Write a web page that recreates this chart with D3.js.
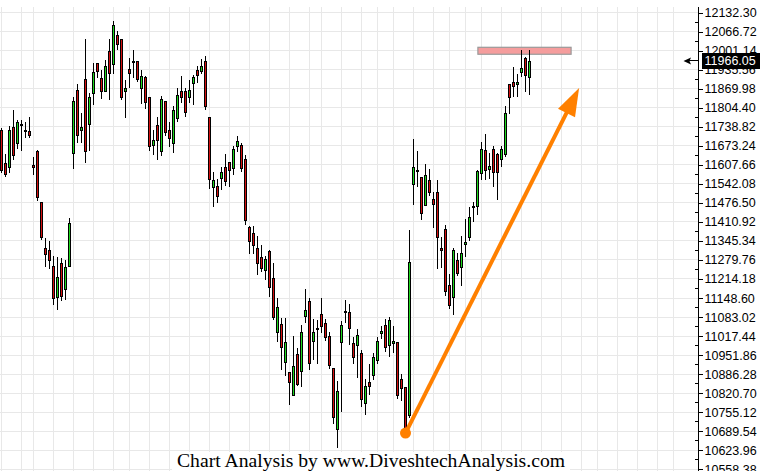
<!DOCTYPE html>
<html><head><meta charset="utf-8">
<script src="https://cdn.jsdelivr.net/npm/d3@7"></script>
<style>html,body{margin:0;padding:0;background:#fff;overflow:hidden}svg{display:block}</style>
</head><body>
<svg id="c" width="760" height="471"></svg>
<script>
// ---- data ----
const opens  = [11728,11614,11600,11738,11683,11747,11725,11725,11608,11654,11479,11321,11315,11260,11152,11269,11180,11260,11650,11866,
  11727,11903,11748,11855,11958,11906,11864,11999,11956,12056,12041,11864,11937,11963,11965,11874,11911,11843,11675,11745,
  11654,11827,11727,11683,11769,11863,11863,11841,11891,11934,11930,11965,11772,11531,11536,11562,11600,11616,11597,11672,
  11677,11627,11395,11374,11322,11291,11245,11310,11216,11033,11059,10929,10894,10814,10956,10897,11087,11140,11001,11043,
  11095,11064,11018,10906,10698,10998,11102,11101,10994,10987,10960,10788,10860,10883,10936,11029,11056,10986,10994,10998,
  10870,10843,10745,11543,11587,11566,11468,11555,11490,11514,11321,11387,11194,11152,11281,11256,11335,11359,11463,11467,
  11579,11658,11595,11662,11645,11627,11645,11886,11893,11886,11929,11975,11912];
const highs  = [11734,11646,11742,11797,11763,11761,11757,11774,11634,11660,11479,11356,11345,11295,11290,11287,11279,11424,11843,11887,
  11786,12041,11855,11960,11960,11935,11969,12041,12104,12070,12041,11901,11975,12004,11965,11935,11914,11843,11728,11772,
  11846,11827,11756,11809,11872,11914,11872,11901,11918,11949,11972,11983,11772,11583,11559,11599,11644,11619,11671,11708,
  11683,11642,11398,11398,11361,11333,11292,11313,11269,11147,11080,11080,10894,11019,10977,11057,11180,11147,11077,11074,
  11147,11077,11032,10908,10861,11071,11143,11129,11015,11042,10969,10870,10920,10960,11014,11051,11077,11084,11051,10998,
  10885,10843,11384,11697,11656,11566,11610,11594,11514,11555,11358,11400,11232,11321,11304,11364,11421,11461,11478,11591,
  11688,11714,11650,11671,11650,11673,11811,11886,11944,11920,12004,11981,12004];
const lows   = [11579,11566,11579,11625,11662,11654,11700,11700,11571,11482,11347,11255,11249,11123,11106,11137,11141,11258,11593,11683,
  11683,11614,11657,11813,11906,11835,11859,11830,11921,12004,11830,11769,11872,11906,11895,11817,11800,11657,11640,11623,
  11637,11706,11669,11650,11757,11820,11774,11820,11815,11889,11921,11797,11524,11462,11476,11520,11536,11531,11571,11652,
  11582,11400,11300,11302,11229,11237,11210,11152,11072,10998,10900,10879,10781,10810,10845,10843,11061,10900,10934,10920,
  11029,11000,10905,10715,10633,10755,11063,10986,10922,10874,10774,10745,10814,10866,10920,11009,10962,10945,10960,10799,
  10793,10684,10735,11470,11533,11416,11465,11499,11389,11249,11252,11155,11111,11089,11224,11189,11290,11344,11409,11434,
  11556,11556,11559,11533,11487,11602,11634,11784,11843,11843,11912,11860,11849];
const closes = [11591,11577,11728,11641,11756,11750,11727,11712,11600,11497,11359,11300,11279,11149,11221,11157,11256,11407,11827,11710,
  11738,11657,11843,11928,11930,11863,11948,11924,12090,12023,11843,11873,11924,11965,11905,11913,11823,11671,11693,11693,
  11835,11722,11699,11796,11848,11840,11789,11866,11912,11917,11949,11812,11559,11555,11499,11584,11551,11591,11663,11689,
  11597,11419,11345,11331,11269,11252,11283,11187,11084,11118,10980,10998,10860,10914,10853,11032,11108,10925,11032,11046,
  11053,11015,10917,10739,10829,11056,11104,11046,10946,11020,10799,10844,10845,10946,11002,11035,10979,11073,11002,10814,
  10839,10700,11273,11600,11590,11442,11572,11513,11473,11358,11314,11172,11124,11315,11235,11304,11343,11428,11466,11586,
  11662,11590,11605,11582,11582,11662,11786,11843,11879,11894,11941,11917,11966.05];
const tickLabels = ["12132.30","12066.72","12001.14","11935.56","11869.98","11804.40","11738.82","11673.24","11607.66",
  "11542.08","11476.50","11410.92","11345.34","11279.76","11214.18","11148.60","11083.02","11017.44","10951.86",
  "10886.28","10820.70","10755.12","10689.54","10623.96","10558.38"];
const weekStarts = [0,5,8,13,18,23,28,32,37,42,47,52,57,62,67,72,77,80,85,90,94,98,103,108,112,116,120,125,130,135,140,145,149,154,159,164,168];
const lastPrice = 11966.05;
const zone = {from:119.1, to:142.4, top:12013, bottom:11989};
const arrowStart = [101, 10683];
const arrowEnd = [144.4, 11873];
const footer = "Chart Analysis by www.DiveshtechAnalysis.com";

// ---- drawing ----
const svg = d3.select("#c");
const axisX = 698.5;
const x = d3.scaleLinear().domain([0,174]).range([1.5,697.5]);
const tickVals = tickLabels.map(Number);
const y = d3.scaleLinear().domain([d3.min(tickVals), d3.max(tickVals)]).range([469.2,12.7]);
const px = v => Math.floor(v) + 0.5;

svg.append("rect").attr("width",760).attr("height",471).attr("fill","#fff");

const grid = svg.append("g").attr("stroke","#e8e8e8").attr("stroke-width",1).attr("shape-rendering","crispEdges");
grid.selectAll("line.h").data(tickVals).join("line").attr("class","h")
  .attr("x1",0).attr("x2",axisX).attr("y1",d=>px(y(d))).attr("y2",d=>px(y(d)));
grid.selectAll("line.v").data(weekStarts).join("line").attr("class","v")
  .attr("x1",d=>px(x(d))).attr("x2",d=>px(x(d))).attr("y1",7).attr("y2",471);

// resistance zone
svg.append("rect")
  .attr("x",x(zone.from)).attr("width",x(zone.to)-x(zone.from))
  .attr("y",y(zone.top)).attr("height",y(zone.bottom)-y(zone.top))
  .attr("fill","#f59d9d").attr("stroke","#9a9a9a").attr("stroke-width",1.2);

// candles
const bars = opens.map((o,i)=>({i,o,h:highs[i],l:lows[i],c:closes[i]}));
const cg = svg.append("g").attr("shape-rendering","crispEdges");
cg.selectAll("line.w").data(bars).join("line").attr("class","w")
  .attr("x1",d=>px(x(d.i))).attr("x2",d=>px(x(d.i)))
  .attr("y1",d=>Math.round(y(d.h))).attr("y2",d=>Math.round(y(d.l)))
  .attr("stroke","#000").attr("stroke-width",1);
cg.selectAll("rect.b").data(bars).join("rect").attr("class","b")
  .attr("x",d=>px(x(d.i))-1).attr("width",2)
  .attr("y",d=>Math.round(y(Math.max(d.o,d.c)))+0.5)
  .attr("height",d=>Math.max(1,Math.round(y(Math.min(d.o,d.c)))-Math.round(y(Math.max(d.o,d.c)))))
  .attr("fill",d=>d.c>=d.o?"#1ed81e":"#d41010")
  .attr("stroke","#000").attr("stroke-width",1);

// orange arrow
const sx=x(arrowStart[0]), sy=y(arrowStart[1]), ex=x(arrowEnd[0]), ey=y(arrowEnd[1]);
const len=Math.hypot(ex-sx,ey-sy), ux=(ex-sx)/len, uy=(ey-sy)/len;
const hl=28, hw=9.5;
const bx=ex-ux*hl, by=ey-uy*hl;
svg.append("line").attr("x1",sx).attr("y1",sy).attr("x2",bx+ux*2).attr("y2",by+uy*2)
  .attr("stroke","#ff8000").attr("stroke-width",4);
svg.append("path")
  .attr("d",`M${ex},${ey}L${bx-uy*hw},${by+ux*hw}L${bx+uy*hw},${by-ux*hw}Z`)
  .attr("fill","#ff8000");
svg.append("circle").attr("cx",sx).attr("cy",sy).attr("r",5.5).attr("fill","#ff8000");

// axis
const ax = svg.append("g").attr("transform",`translate(${axisX},0)`)
  .call(d3.axisRight(y).tickValues(tickVals).tickFormat((d,i)=>tickLabels[i]).tickSize(4).tickPadding(2).tickSizeOuter(0));
ax.select(".domain").remove();
ax.selectAll("text").attr("font-family","'Liberation Sans',Arial,sans-serif").attr("font-size","12.5px").attr("fill","#000");
ax.selectAll("line").attr("stroke","#000").attr("shape-rendering","crispEdges");
svg.append("line").attr("x1",axisX).attr("x2",axisX).attr("y1",7).attr("y2",471)
  .attr("stroke","#000").attr("shape-rendering","crispEdges");
const mids = d3.pairs(tickVals).map(([a,b])=>(a+b)/2);
svg.append("g").selectAll("line").data(mids).join("line")
  .attr("x1",axisX-4).attr("x2",axisX).attr("y1",d=>px(y(d))).attr("y2",d=>px(y(d)))
  .attr("stroke","#000").attr("shape-rendering","crispEdges");

// last price tag
const ly = y(lastPrice);
svg.append("rect").attr("x",702).attr("y",Math.round(ly)-8).attr("width",58).attr("height",16).attr("fill","#000");
svg.append("text").attr("x",704.5).attr("y",ly).attr("dy","0.36em")
  .attr("font-family","'Liberation Sans',Arial,sans-serif").attr("font-size","12.5px").attr("fill","#fff")
  .text(d3.format(".2f")(lastPrice));
svg.append("path").attr("d",`M683.5,${ly}L691,${ly-3.5}L689.5,${ly}L691,${ly+3.5}Z`).attr("fill","#000");
svg.append("line").attr("x1",688).attr("x2",695).attr("y1",px(ly)).attr("y2",px(ly)).attr("stroke","#000");

// footer
svg.append("rect").attr("x",172).attr("y",452).attr("width",398).attr("height",19).attr("fill","#fff");
svg.append("text").attr("x",177).attr("y",466.5)
  .attr("font-family","'Liberation Serif','Times New Roman',serif").attr("font-size","19px").attr("fill","#000")
  .attr("textLength",388).attr("lengthAdjust","spacingAndGlyphs")
  .text(footer);
</script>
</body></html>
